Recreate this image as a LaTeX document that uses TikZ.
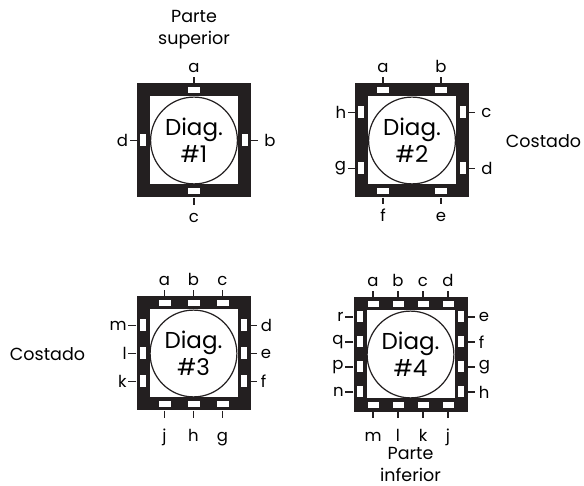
\documentclass[tikz,border=0pt]{standalone}
\usepackage{fontspec}
\setmainfont{Poppins}
\usetikzlibrary{positioning}
\definecolor{framecol}{HTML}{231F20}

\begin{document}
\begin{tikzpicture}[x=1pt, y=-1pt,
  frame/.style={fill=framecol, minimum size=114pt, inner sep=0pt},
  hole/.style={fill=white, minimum size=88pt, inner sep=0pt},
  disc/.style={circle, draw=framecol, line width=1.2pt, minimum size=86.8pt, inner sep=0pt, align=center, font=\fontsize{23}{27}\selectfont},
  hslot/.style={fill=white, minimum width=12pt, minimum height=6pt, inner sep=0pt},
  vslot/.style={fill=white, minimum width=6pt, minimum height=12pt, inner sep=0pt},
  lbl/.style={font=\fontsize{16.5}{18}\selectfont, inner sep=1.5pt},
  toplbl/.style={lbl, text height=12pt, text depth=0pt, inner ysep=4.5pt},
  botlbl/.style={lbl, text height=12pt, text depth=3.5pt, inner ysep=6pt},
  rlbl/.style={lbl, inner xsep=4pt},
  tick/.style={draw=framecol, line width=1.6pt},
  note/.style={align=center, inner sep=1pt, font=\fontsize{17.5}{22}\selectfont}
]
\useasboundingbox (0,0) rectangle (584,486);

% Diag. 1
\node[frame] (f1) at (194,140.5) {};
\node[hole] at (f1) {};
\node[disc] (c1) at (f1) {Diag.\\\#1};
\node[hslot] (s1a) at ([yshift=-6.5pt]f1.north) {};
\node[vslot] (s1b) at ([xshift=-6.5pt]f1.east) {};
\node[hslot] (s1c) at ([yshift=6.5pt]f1.south) {};
\node[vslot] (s1d) at ([xshift=6.5pt]f1.west) {};
\coordinate (e1a) at (f1.north);
\coordinate (e1b) at (f1.east);
\coordinate (e1c) at (f1.south);
\coordinate (e1d) at (f1.west);
\node[toplbl, above=6pt of e1a] (l1a) {a};
\node[rlbl, right=7pt of e1b, inner xsep=6pt] (l1b) {b};
\node[botlbl, below=7pt of e1c] (l1c) {c};
\node[lbl, left=7pt of e1d] (l1d) {d};
\foreach \lab in {a,b,c,d} \draw[tick] (e1\lab) -- (l1\lab);
\node[note] (top1) at (194,30) {Parte\\superior};

% Diag. 2
\node[frame] (f2) at (412,140.5) {};
\node[hole] at (f2) {};
\node[disc] (c2) at (f2) {Diag.\\\#2};
\foreach \off/\lab in {-29/a, 29/b} {
  \node[hslot] (s2\lab) at ([xshift=\off pt, yshift=-6.5pt]f2.north) {};
  \coordinate (e2\lab) at (s2\lab |- f2.north);
  \node[toplbl, above=6pt of e2\lab] (l2\lab) {\lab};
  \draw[tick] (e2\lab) -- (l2\lab);
}
\foreach \off/\lab in {-28/c, 28/d} {
  \node[vslot] (s2\lab) at ([xshift=-6.5pt, yshift=-\off pt]f2.east) {};
  \coordinate (e2\lab) at (s2\lab -| f2.east);
  \node[rlbl, right=6pt of e2\lab, inner xsep=6pt] (l2\lab) {\lab};
  \draw[tick] (e2\lab) -- (l2\lab);
}
\foreach \off/\lab in {29/e, -29/f} {
  \node[hslot] (s2\lab) at ([xshift=\off pt, yshift=6.5pt]f2.south) {};
  \coordinate (e2\lab) at (s2\lab |- f2.south);
  \node[botlbl, below=6pt of e2\lab] (l2\lab) {\lab};
  \draw[tick] (e2\lab) -- (l2\lab);
}
\foreach \off/\lab in {28/g, -28/h} {
  \node[vslot] (s2\lab) at ([xshift=6.5pt, yshift=-\off pt]f2.west) {};
  \coordinate (e2\lab) at (s2\lab -| f2.west);
  \node[lbl, left=7pt of e2\lab] (l2\lab) {\lab};
  \draw[tick] (e2\lab) -- (l2\lab);
}
\node[note] (side2) at (543.5,141.5) {Costado};

% Diag. 3
\node[frame] (f3) at (193.5,353.5) {};
\node[hole] at (f3) {};
\node[disc] (c3) at (f3) {Diag.\\\#3};
\foreach \off/\lab in {-29/a, 0/b, 29/c} {
  \node[hslot] (s3\lab) at ([xshift=\off pt, yshift=-6.5pt]f3.north) {};
  \coordinate (e3\lab) at (s3\lab |- f3.north);
  \node[toplbl, above=6pt of e3\lab] (l3\lab) {\lab};
  \draw[tick] (e3\lab) -- (l3\lab);
}
\foreach \off/\lab in {-28/d, 0/e, 28/f} {
  \node[vslot] (s3\lab) at ([xshift=-6.5pt, yshift=-\off pt]f3.east) {};
  \coordinate (e3\lab) at (s3\lab -| f3.east);
  \node[rlbl, right=6pt of e3\lab] (l3\lab) {\lab};
  \draw[tick] (e3\lab) -- (l3\lab);
}
\foreach \off/\lab in {29/g, 0/h, -29/j} {
  \node[hslot] (s3\lab) at ([xshift=\off pt, yshift=6.5pt]f3.south) {};
  \coordinate (e3\lab) at (s3\lab |- f3.south);
  \node[botlbl, below=7pt of e3\lab, inner ysep=12pt] (l3\lab) {\lab};
  \draw[tick] (e3\lab) -- (l3\lab);
}
\foreach \off/\lab in {28/k, 0/l, -28/m} {
  \node[vslot] (s3\lab) at ([xshift=6.5pt, yshift=-\off pt]f3.west) {};
  \coordinate (e3\lab) at (s3\lab -| f3.west);
  \node[lbl, left=8pt of e3\lab] (l3\lab) {\lab};
  \draw[tick] (e3\lab) -- (l3\lab);
}
\node[note] (side3) at (47.5,354) {Costado};

% Diag. 4
\node[frame] (f4) at (410.5,354.5) {};
\node[hole] at (f4) {};
\node[disc] (c4) at (f4) {Diag.\\\#4};
\foreach \off/\lab in {-37.5/a, -12.5/b, 12.5/c, 37.5/d} {
  \node[hslot, minimum width=11pt] (s4\lab) at ([xshift=\off pt, yshift=-6.5pt]f4.north) {};
  \coordinate (e4\lab) at (s4\lab |- f4.north);
  \node[toplbl, above=6pt of e4\lab] (l4\lab) {\lab};
  \draw[tick] (e4\lab) -- (l4\lab);
}
\foreach \off/\lab in {-37.5/e, -12.5/f, 12.5/g, 37.5/h} {
  \node[vslot, minimum height=11pt] (s4\lab) at ([xshift=-6.5pt, yshift=-\off pt]f4.east) {};
  \coordinate (e4\lab) at (s4\lab -| f4.east);
  \node[rlbl, right=7pt of e4\lab] (l4\lab) {\lab};
  \draw[tick] (e4\lab) -- (l4\lab);
}
\foreach \off/\lab in {37.5/j, 12.5/k, -12.5/l, -37.5/m} {
  \node[hslot, minimum width=11pt] (s4\lab) at ([xshift=\off pt, yshift=6.5pt]f4.south) {};
  \coordinate (e4\lab) at (s4\lab |- f4.south);
  \node[botlbl, below=6pt of e4\lab, inner ysep=12pt] (l4\lab) {\lab};
  \draw[tick] (e4\lab) -- (l4\lab);
}
\foreach \off/\lab in {37.5/n, 12.5/p, -12.5/q, -37.5/r} {
  \node[vslot, minimum height=11pt] (s4\lab) at ([xshift=6.5pt, yshift=-\off pt]f4.west) {};
  \coordinate (e4\lab) at (s4\lab -| f4.west);
  \node[lbl, left=8pt of e4\lab] (l4\lab) {\lab};
  \draw[tick] (e4\lab) -- (l4\lab);
}
\node[note] (bot4) at (410.5,464) {Parte\\inferior};
\end{tikzpicture}
\end{document}
